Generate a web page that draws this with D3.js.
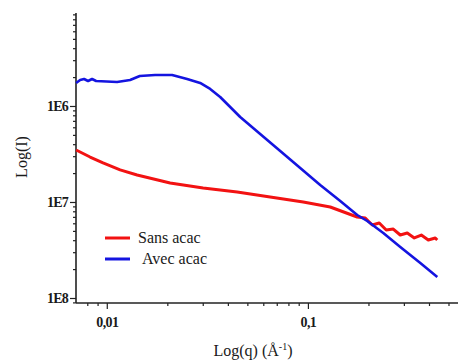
<!DOCTYPE html>
<html>
<head>
<meta charset="utf-8">
<script src="https://cdn.jsdelivr.net/npm/d3@7/dist/d3.min.js"></script>
<style>
  body { margin: 0; background: #fff; }
  svg { display: block; }
</style>
</head>
<body>
<div id="chart"></div>
<script>

// DATA

var sansQ = [ 0.00704, 0.00826, 0.00958, 0.01165, 0.01415, 0.02065, 0.03014, 0.04449, 0.0649,
  0.0948, 0.1291, 0.1758, 0.1928, 0.2089, 0.2263, 0.2452, 0.2657, 0.2879, 0.3119, 0.3380,
  0.3662, 0.3967, 0.4298, 0.4395 ];
var sansI = [ 3.48e-7, 2.94e-7, 2.55e-7, 2.16e-7, 1.91e-7, 1.58e-7, 1.40e-7, 1.27e-7, 1.13e-7,
  1.0e-7, 8.87e-8, 6.98e-8, 6.81e-8, 5.76e-8, 6.04e-8, 5.11e-8, 5.23e-8, 4.53e-8, 4.75e-8, 4.22e-8,
  4.53e-8, 4.02e-8, 4.22e-8, 4.02e-8 ];

var avecQ = [ 0.00704, 0.00737, 0.00771, 0.00807, 0.00845, 0.00885, 0.01125, 0.01306, 0.01459,
  0.01739, 0.02113, 0.02508, 0.02912, 0.03266, 0.03662, 0.04107, 0.04605, 0.05790, 0.07283,
  0.09157, 0.1151, 0.1448, 0.1759, 0.1972, 0.2370, 0.2879, 0.3621, 0.4398 ];
var avecI = [ 1.736e-6, 1.866e-6, 1.911e-6, 1.821e-6, 1.911e-6, 1.821e-6, 1.778e-6, 1.866e-6, 2.054e-6,
  2.104e-6, 2.104e-6, 1.911e-6, 1.736e-6, 1.504e-6, 1.241e-6, 9.76e-7, 7.68e-7, 5.11e-7, 3.40e-7,
  2.26e-7, 1.503e-7, 1.024e-7, 7.32e-8, 6.34e-8, 4.75e-8, 3.40e-8, 2.31e-8, 1.65e-8 ];

var xTicks = [ 0.01, 0.1 ];
var xTickLabels = [ "0,01", "0,1" ];
var yTicks = [ 1e-6, 1e-7, 1e-8 ];
var yTickLabels = [ "1E6", "1E7", "1E8" ];

var seriesNames = [ "Sans acac", "Avec acac" ];
var seriesColors = [ "#f21212", "#1414e0" ];

// CHART

var serif = "'Liberation Serif', 'Times New Roman', 'DejaVu Serif', serif";
var width = 458, height = 360;
var plotLeft = 76, plotRight = 458, plotTop = 13, plotBottom = 303;

var svg = d3.select( "#chart" ).append( "svg" )
  .attr( "width", width ).attr( "height", height )
  .style( "font-family", serif );

var x = d3.scaleLog().domain( [ 0.00703, 0.5575 ] ).range( [ plotLeft, plotRight ] );
var y = d3.scaleLog().domain( [ 8.87e-9, 9.3e-6 ] ).range( [ plotBottom, plotTop ] );

function minorValues( scale ) {
  var d = scale.domain(), out = [];
  for( var e = -9; e <= 0; e++ ) {
    for( var k = 2; k <= 9; k++ ) {
      var v = k * Math.pow( 10, e );
      if( v >= d[ 0 ] && v <= d[ 1 ] ) {
        out.push( v );
      }
    }
  }
  return out;
}

// minor ticks
var xMinor = svg.append( "g" ).attr( "transform", "translate(0," + plotBottom + ")" )
  .call( d3.axisBottom( x ).tickValues( minorValues( x ) ).tickSize( 3 ).tickFormat( "" ) );
var yMinor = svg.append( "g" ).attr( "transform", "translate(" + plotLeft + ",0)" )
  .call( d3.axisLeft( y ).tickValues( minorValues( y ) ).tickSize( 3 ).tickFormat( "" ) );

// major ticks
var xAxis = svg.append( "g" ).attr( "transform", "translate(0," + plotBottom + ")" )
  .call( d3.axisBottom( x ).tickValues( xTicks ).tickSize( 6 ).tickPadding( 8 )
    .tickFormat( function( d, i ) { return xTickLabels[ i ]; } ) );
var yAxis = svg.append( "g" ).attr( "transform", "translate(" + plotLeft + ",0)" )
  .call( d3.axisLeft( y ).tickValues( yTicks ).tickSize( 6 ).tickPadding( 2 )
    .tickFormat( function( d, i ) { return yTickLabels[ i ]; } ) );

[ xMinor, yMinor, xAxis, yAxis ].forEach( function( g ) {
  g.attr( "font-family", serif );
  g.select( ".domain" ).remove();
  g.selectAll( "line" ).attr( "stroke", "#222" ).attr( "stroke-width", 1.2 );
} );
xAxis.selectAll( "text" ).attr( "font-size", 14 ).attr( "letter-spacing", -0.6 )
  .attr( "fill", "#1a1a1a" ).attr( "font-weight", "bold" );
yAxis.selectAll( "text" ).attr( "font-size", 14 ).attr( "letter-spacing", -0.8 )
  .attr( "fill", "#1a1a1a" ).attr( "font-weight", "bold" );

svg.append( "line" ).attr( "x1", plotLeft ).attr( "x2", plotLeft ).attr( "y1", plotTop ).attr( "y2", plotBottom )
  .attr( "stroke", "#222" ).attr( "stroke-width", 1.6 );
svg.append( "line" ).attr( "x1", plotLeft ).attr( "x2", plotRight ).attr( "y1", plotBottom ).attr( "y2", plotBottom )
  .attr( "stroke", "#222" ).attr( "stroke-width", 1.6 );

// curves
var line = d3.line()
  .x( function( d ) { return x( d[ 0 ] ); } )
  .y( function( d ) { return y( d[ 1 ] ); } );

var series = [ d3.zip( sansQ, sansI ), d3.zip( avecQ, avecI ) ];
svg.append( "g" ).selectAll( "path" ).data( series ).join( "path" )
  .attr( "d", line )
  .attr( "fill", "none" )
  .attr( "stroke", function( d, i ) { return seriesColors[ i ]; } )
  .attr( "stroke-width", function( d, i ) { return i === 0 ? 3 : 2.6; } )
  .attr( "stroke-linejoin", "round" );

// legend
var legend = svg.append( "g" ).selectAll( "g" ).data( seriesNames ).join( "g" )
  .attr( "transform", function( d, i ) { return "translate(105," + ( 238 + i * 21 ) + ")"; } );
legend.append( "line" ).attr( "x1", 0 ).attr( "x2", 25 )
  .attr( "stroke", function( d, i ) { return seriesColors[ i ]; } ).attr( "stroke-width", 3 );
legend.append( "text" )
  .attr( "x", function( d, i ) { return i === 0 ? 33 : 37; } ).attr( "y", 5 )
  .attr( "font-size", 16 ).attr( "fill", "#1a1a1a" )
  .text( function( d ) { return d; } );

// axis titles
var xt = svg.append( "text" ).attr( "x", 253 ).attr( "y", 356 )
  .attr( "text-anchor", "middle" ).attr( "font-size", 16 ).attr( "fill", "#1a1a1a" );
xt.append( "tspan" ).text( "Log(q) (Å" );
xt.append( "tspan" ).attr( "font-size", 10 ).attr( "dy", -6 ).text( "-1" );
xt.append( "tspan" ).attr( "dy", 6 ).text( ")" );

svg.append( "text" )
  .attr( "transform", "translate(27,157) rotate(-90)" )
  .attr( "text-anchor", "middle" ).attr( "font-size", 16 ).attr( "fill", "#1a1a1a" )
  .text( "Log(I)" );

</script>
</body>
</html>
